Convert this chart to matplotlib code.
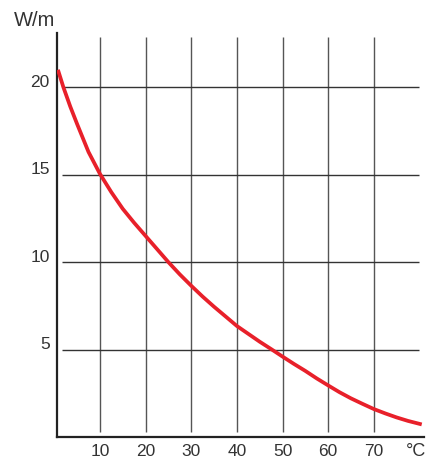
import matplotlib.pyplot as plt
from matplotlib.transforms import blended_transform_factory, ScaledTranslation

# values
temp = [0.8, 2, 3.5, 5, 7.5, 10, 12.5, 15, 17.5, 20, 22.5, 25, 27.5, 30, 32.5,
        35, 37.5, 40, 42.5, 45, 47.5, 50, 52.5, 55, 57.5, 60, 62.5, 65, 67.5,
        70, 72.5, 75, 77.5, 80.5]
power = [21.0, 20.0, 18.9, 17.9, 16.3, 15.05, 14.0, 13.05, 12.25, 11.5, 10.75,
         10.0, 9.3, 8.65, 8.03, 7.45, 6.9, 6.35, 5.9, 5.45, 5.03, 4.6, 4.18, 3.78,
         3.35, 2.95, 2.56, 2.21, 1.9, 1.6, 1.35, 1.12, 0.92, 0.72]

x_ticks = [10, 20, 30, 40, 50, 60, 70]
y_ticks = [5, 10, 15, 20]

plt.rcParams['font.family'] = ['Liberation Sans', 'DejaVu Sans']

fig = plt.figure(figsize=(4.28, 4.59), dpi=100)
ax = fig.add_axes([0.1332, 0.0479, 0.8575, 0.8801])
ax.set_xlim(0.6, 81)
ax.set_ylim(0, 23.1)

for s in ["top", "right"]:
    ax.spines[s].set_visible(False)
for s in ["left", "bottom"]:
    ax.spines[s].set_color("#222222")
    ax.spines[s].set_linewidth(1.6)

# grid drawn as segments that stop short of the axes
ax.vlines(x_ticks, 0.28, 22.9, color="#555555", lw=1.0, zorder=1)
ax.hlines(y_ticks, 1.7, 79.9, color="#333333", lw=1.0, zorder=1)

ax.plot(temp, power, color="#e8202a", lw=2.7, solid_capstyle="butt",
        solid_joinstyle="round", zorder=3)

ax.set_xticks(x_ticks)
ax.set_xticklabels([str(t) for t in x_ticks])
ax.tick_params(axis="x", length=0, pad=5, labelsize=12.5, labelcolor="#333333")
ax.set_yticks([])

trans = blended_transform_factory(ax.transAxes, ax.transData) + \
    ScaledTranslation(0, 5 / 100, fig.dpi_scale_trans)
for v in y_ticks:
    ax.text(-0.02, v, str(v), transform=trans, ha="right", va="center",
            fontsize=12.5, color="#333333")

fig.text(416 / 428, 1 - 452 / 459, "°C", ha="center", va="center",
         fontsize=13, color="#333333")
fig.text(14 / 428, 1 - 20 / 459, "W/m", ha="left", va="center",
         fontsize=14.5, color="#333333")

fig.savefig("out.png", dpi=100)
